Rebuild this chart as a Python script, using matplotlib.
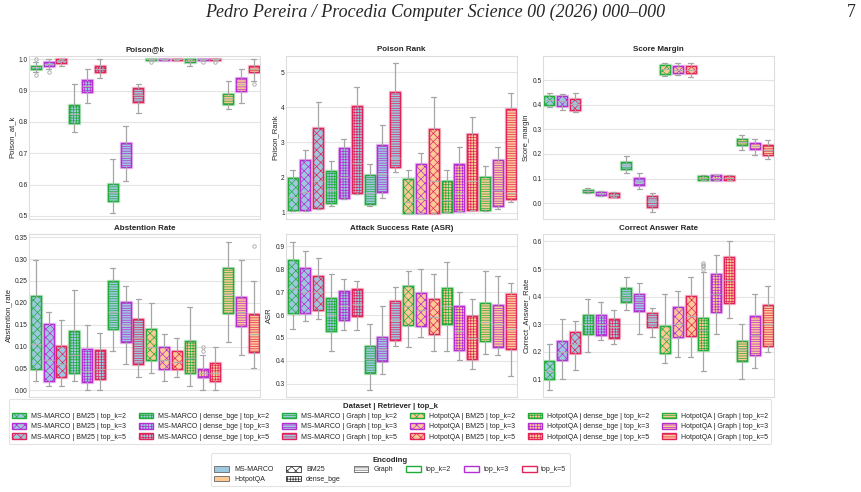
import numpy as np
import matplotlib
matplotlib.use('Agg')
import matplotlib.pyplot as plt
import matplotlib.patheffects as pe
from matplotlib.patches import Patch
import seaborn as sns

sns.set_style('whitegrid')
plt.rcParams['font.family'] = ['Liberation Sans', 'DejaVu Sans']
plt.rcParams['hatch.linewidth'] = 0.5

# ---- groups: dataset x retriever x top_k ----
datasets = ['MS-MARCO', 'HotpotQA']
retrievers = ['BM25', 'dense_bge', 'Graph']
topks = ['top_k=2', 'top_k=3', 'top_k=5']

ds_colors = {'MS-MARCO': '#9dc8e0', 'HotpotQA': '#fdc995'}
ret_hatch = {'BM25': 'xxxx', 'dense_bge': '++++++', 'Graph': '-------'}
k_colors = {'top_k=2': '#22aa3a', 'top_k=3': '#b42ed2', 'top_k=5': '#e0245a'}

# ---- box stats per metric (18 groups, order: dataset > retriever > top_k) ----
poison_q1 = [0.969, 0.978, 0.989, 0.798, 0.895, 0.959, 0.547, 0.655, 0.864,
             0.999, 0.999, 0.999, 0.990, 0.999, 0.999, 0.857, 0.900, 0.959]
poison_med = [0.975, 0.984, 0.995, 0.825, 0.915, 0.970, 0.575, 0.695, 0.885,
              1.0, 1.0, 1.0, 0.995, 1.0, 1.0, 0.875, 0.920, 0.970]
poison_q3 = [0.980, 0.990, 1.0, 0.853, 0.934, 0.980, 0.602, 0.732, 0.909,
             1.0, 1.0, 1.0, 1.0, 1.0, 1.0, 0.889, 0.939, 0.980]
poison_lo = [0.960, 0.970, 0.980, 0.768, 0.860, 0.940, 0.508, 0.610, 0.830,
             0.999, 0.999, 0.999, 0.980, 0.999, 0.999, 0.840, 0.860, 0.930]
poison_hi = [0.990, 1.0, 1.0, 0.920, 0.970, 1.0, 0.680, 0.788, 0.920,
             1.0, 1.0, 1.0, 1.0, 1.0, 1.0, 0.930, 0.970, 1.0]
poison_fl = [[1.0, 0.95], [0.96], [], [], [], [], [], [], [],
             [0.99], [], [], [], [0.99], [0.99], [], [], [0.92]]

rank_q1 = [1.07, 1.07, 1.12, 1.27, 1.43, 1.55, 1.24, 1.59, 2.29,
           0.98, 0.98, 0.98, 1.03, 1.05, 1.07, 1.07, 1.20, 1.40]
rank_med = [1.45, 1.60, 1.90, 1.65, 2.00, 2.40, 1.55, 2.10, 2.56,
            1.30, 1.40, 1.90, 1.35, 1.55, 1.90, 1.40, 1.65, 1.57]
rank_q3 = [1.99, 2.51, 3.42, 2.18, 2.85, 4.04, 2.07, 2.93, 4.43,
           1.96, 2.39, 3.39, 1.89, 2.39, 3.25, 2.00, 2.50, 3.95]
rank_lo = [1.05, 1.05, 1.10, 1.19, 1.40, 1.53, 1.19, 1.41, 2.17,
           0.98, 0.98, 0.98, 1.03, 1.05, 1.07, 1.05, 1.10, 1.30]
rank_hi = [2.20, 2.77, 4.15, 2.48, 3.10, 4.57, 2.37, 3.49, 5.26,
           2.22, 2.69, 4.30, 2.22, 2.87, 3.73, 2.32, 2.87, 4.40]
rank_fl = [[] for _ in range(18)]

margin_q1 = [0.398, 0.394, 0.380, 0.045, 0.034, 0.027, 0.141, 0.072, -0.016,
             0.526, 0.529, 0.529, 0.096, 0.096, 0.095, 0.238, 0.220, 0.194]
margin_med = [0.418, 0.415, 0.402, 0.048, 0.040, 0.034, 0.155, 0.088, 0.008,
              0.545, 0.543, 0.543, 0.103, 0.104, 0.103, 0.250, 0.233, 0.216]
margin_q3 = [0.435, 0.437, 0.425, 0.052, 0.045, 0.041, 0.167, 0.102, 0.030,
             0.560, 0.557, 0.557, 0.111, 0.113, 0.111, 0.261, 0.245, 0.238]
margin_lo = [0.390, 0.380, 0.370, 0.041, 0.030, 0.024, 0.122, 0.058, -0.034,
             0.519, 0.522, 0.514, 0.093, 0.093, 0.093, 0.217, 0.196, 0.181]
margin_hi = [0.448, 0.444, 0.448, 0.061, 0.051, 0.047, 0.190, 0.122, 0.043,
             0.568, 0.571, 0.568, 0.114, 0.116, 0.114, 0.276, 0.261, 0.258]
margin_fl = [[] for _ in range(18)]

abst_q1 = [0.049, 0.021, 0.030, 0.040, 0.020, 0.027, 0.140, 0.110, 0.060,
           0.070, 0.050, 0.050, 0.040, 0.030, 0.021, 0.177, 0.147, 0.089]
abst_med = [0.105, 0.070, 0.060, 0.080, 0.045, 0.050, 0.180, 0.150, 0.120,
            0.100, 0.070, 0.065, 0.075, 0.040, 0.040, 0.220, 0.180, 0.130]
abst_q3 = [0.215, 0.151, 0.102, 0.135, 0.095, 0.093, 0.250, 0.202, 0.164,
           0.140, 0.100, 0.090, 0.113, 0.050, 0.063, 0.279, 0.214, 0.174]
abst_lo = [0.021, 0.011, 0.011, 0.021, 0.0, 0.0, 0.090, 0.061, 0.031,
           0.040, 0.021, 0.031, 0.011, 0.0, 0.0, 0.110, 0.080, 0.051]
abst_hi = [0.299, 0.180, 0.160, 0.229, 0.149, 0.131, 0.279, 0.238, 0.210,
           0.200, 0.130, 0.120, 0.190, 0.080, 0.100, 0.340, 0.299, 0.250]
abst_fl = [[], [], [], [], [], [], [], [], [],
           [], [], [], [], [0.10, 0.09], [], [], [], [0.33]]

asr_q1 = [0.609, 0.609, 0.620, 0.530, 0.580, 0.596, 0.348, 0.398, 0.489,
          0.558, 0.550, 0.518, 0.562, 0.449, 0.409, 0.486, 0.460, 0.453]
asr_med = [0.720, 0.700, 0.700, 0.600, 0.640, 0.650, 0.410, 0.450, 0.580,
           0.640, 0.620, 0.590, 0.640, 0.530, 0.500, 0.570, 0.560, 0.540]
asr_q3 = [0.842, 0.805, 0.772, 0.676, 0.705, 0.714, 0.465, 0.504, 0.661,
          0.725, 0.695, 0.671, 0.716, 0.639, 0.594, 0.652, 0.645, 0.693]
asr_lo = [0.540, 0.572, 0.581, 0.443, 0.533, 0.533, 0.274, 0.344, 0.463,
          0.460, 0.502, 0.443, 0.443, 0.405, 0.363, 0.431, 0.424, 0.335]
asr_hi = [0.919, 0.880, 0.850, 0.781, 0.759, 0.750, 0.562, 0.639, 0.721,
          0.791, 0.802, 0.781, 0.830, 0.702, 0.670, 0.791, 0.772, 0.741]
asr_fl = [[] for _ in range(18)]

car_q1 = [0.101, 0.169, 0.197, 0.263, 0.260, 0.250, 0.379, 0.348, 0.291,
          0.196, 0.252, 0.258, 0.206, 0.345, 0.378, 0.166, 0.190, 0.220]
car_med = [0.130, 0.200, 0.230, 0.300, 0.300, 0.290, 0.400, 0.380, 0.315,
           0.250, 0.300, 0.330, 0.280, 0.410, 0.460, 0.210, 0.260, 0.300]
car_q3 = [0.166, 0.240, 0.272, 0.333, 0.333, 0.320, 0.430, 0.411, 0.339,
          0.294, 0.363, 0.403, 0.323, 0.482, 0.542, 0.240, 0.331, 0.368]
car_lo = [0.062, 0.100, 0.133, 0.200, 0.241, 0.230, 0.351, 0.263, 0.252,
          0.161, 0.181, 0.181, 0.132, 0.263, 0.321, 0.100, 0.141, 0.200]
car_hi = [0.230, 0.320, 0.311, 0.390, 0.380, 0.351, 0.470, 0.451, 0.360,
          0.411, 0.420, 0.470, 0.491, 0.550, 0.600, 0.300, 0.411, 0.440]
car_fl = [[], [], [], [], [], [], [], [], [],
          [], [], [], [0.50, 0.51, 0.515, 0.52], [], [], [], [], []]

panels = [
    ('Poison@k', 'Poison_at_k', (poison_q1, poison_med, poison_q3, poison_lo, poison_hi, poison_fl),
     (0.49, 1.012), [0.5, 0.6, 0.7, 0.8, 0.9, 1.0], '{:.1f}'),
    ('Poison Rank', 'Poison_Rank', (rank_q1, rank_med, rank_q3, rank_lo, rank_hi, rank_fl),
     (0.82, 5.47), [1, 2, 3, 4, 5], '{:d}'),
    ('Score Margin', 'Score_margin', (margin_q1, margin_med, margin_q3, margin_lo, margin_hi, margin_fl),
     (-0.064, 0.60), [0.0, 0.1, 0.2, 0.3, 0.4, 0.5], '{:.1f}'),
    ('Abstention Rate', 'Abstention_rate', (abst_q1, abst_med, abst_q3, abst_lo, abst_hi, abst_fl),
     (-0.015, 0.358), [0.0, 0.05, 0.10, 0.15, 0.20, 0.25, 0.30, 0.35], '{:.2f}'),
    ('Attack Success Rate (ASR)', 'ASR', (asr_q1, asr_med, asr_q3, asr_lo, asr_hi, asr_fl),
     (0.242, 0.955), [0.3, 0.4, 0.5, 0.6, 0.7, 0.8, 0.9], '{:.1f}'),
    ('Correct Answer Rate', 'Correct_Answer_Rate', (car_q1, car_med, car_q3, car_lo, car_hi, car_fl),
     (0.036, 0.628), [0.1, 0.2, 0.3, 0.4, 0.5, 0.6], '{:.1f}'),
]

groups = [(d, r, k) for d in datasets for r in retrievers for k in topks]

fig = plt.figure(figsize=(8.62, 4.92), dpi=100)

# page header
fig.text(0.505, 0.975, 'Pedro Pereira / Procedia Computer Science 00 (2026) 000\u2013000',
         ha='center', va='center', fontsize=13, style='italic', family='Liberation Serif')
fig.text(0.993, 0.975, '7', ha='right', va='center', fontsize=13, family='Liberation Serif')

lefts = [0.034, 0.332, 0.630]
bottoms = [0.555, 0.193]
W, H = 0.268, 0.332

GRAY = '#a6a6a6'

for i, (title, ylab, st, ylim, ticks, fmt) in enumerate(panels):
    ax = fig.add_axes([lefts[i % 3], bottoms[i // 3], W, H])
    q1, med, q3, lo, hi, fl = st
    stats = []
    for j in range(18):
        stats.append({'q1': q1[j], 'med': med[j], 'q3': q3[j],
                      'whislo': lo[j], 'whishi': hi[j], 'fliers': fl[j]})
    res = ax.bxp(stats, positions=np.arange(18), widths=0.78, patch_artist=True,
                 showfliers=True,
                 whiskerprops=dict(color=GRAY, lw=0.9),
                 capprops=dict(color=GRAY, lw=0.9),
                 medianprops=dict(color='#b0b0b0', lw=0.8),
                 flierprops=dict(marker='o', markersize=2.5, markerfacecolor='none',
                                 markeredgecolor=GRAY, markeredgewidth=0.6))
    for box, (d, r, k) in zip(res['boxes'], groups):
        box.set_facecolor(ds_colors[d])
        box.set_edgecolor(k_colors[k])
        box.set_hatch(ret_hatch[r])
        box.set_linewidth(1.0)
        box.set_path_effects([pe.Stroke(linewidth=2.4, foreground=k_colors[k], alpha=0.3),
                              pe.Normal()])
    ax.set_xlim(-0.5, 17.5)
    ax.set_ylim(*ylim)
    ax.set_yticks(ticks)
    ax.set_yticklabels([fmt.format(t) for t in ticks])
    ax.set_xticks([])
    ax.tick_params(axis='y', labelsize=4.8, pad=1, length=0)
    ax.set_ylabel(ylab, fontsize=5.5, labelpad=2)
    ax.set_title(title, fontsize=5.8, fontweight='bold', pad=3)
    ax.grid(True, axis='y', color='#e4e4e4', lw=0.8)
    ax.grid(False, axis='x')
    for s in ax.spines.values():
        s.set_color('#dddddd')
        s.set_linewidth(0.8)

# combined legend
h1 = []
for d, r, k in groups:
    h1.append(Patch(facecolor=ds_colors[d], edgecolor=k_colors[k], hatch=ret_hatch[r],
                    lw=1.0, label=f'{d} | {r} | {k}'))
leg1 = fig.legend(handles=h1, ncol=6, loc='center', bbox_to_anchor=(0.4525, 0.143),
                  title='Dataset | Retriever | top_k', fontsize=5,
                  title_fontproperties={'weight': 'bold', 'size': 5.6},
                  frameon=True, handlelength=2.0, handleheight=0.9,
                  columnspacing=1.9, labelspacing=0.45, borderpad=0.45, handletextpad=0.7)
leg1.get_frame().set_edgecolor('#dddddd')
leg1.get_frame().set_linewidth(0.8)

h2 = [Patch(facecolor=ds_colors['MS-MARCO'], edgecolor='#666666', lw=0.6, label='MS-MARCO'),
      Patch(facecolor=ds_colors['HotpotQA'], edgecolor='#666666', lw=0.6, label='HotpotQA'),
      Patch(facecolor='white', edgecolor='#333333', hatch=ret_hatch['BM25'], lw=0.6, label='BM25'),
      Patch(facecolor='white', edgecolor='#333333', hatch=ret_hatch['dense_bge'], lw=0.6, label='dense_bge'),
      Patch(facecolor='white', edgecolor='#666666', hatch=ret_hatch['Graph'], lw=0.6, label='Graph')]
for k in topks:
    h2.append(Patch(facecolor='white', edgecolor=k_colors[k], lw=1.0, label=k))
leg2 = fig.legend(handles=h2, ncol=6, loc='center', bbox_to_anchor=(0.453, 0.045),
                  title='Encoding', fontsize=5,
                  title_fontproperties={'weight': 'bold', 'size': 5.6},
                  frameon=True, handlelength=2.1, handleheight=0.8,
                  columnspacing=1.9, labelspacing=0.4, borderpad=0.45, handletextpad=0.7)
leg2.get_frame().set_edgecolor('#dddddd')
leg2.get_frame().set_linewidth(0.8)

fig.savefig('out.png', dpi=100)
